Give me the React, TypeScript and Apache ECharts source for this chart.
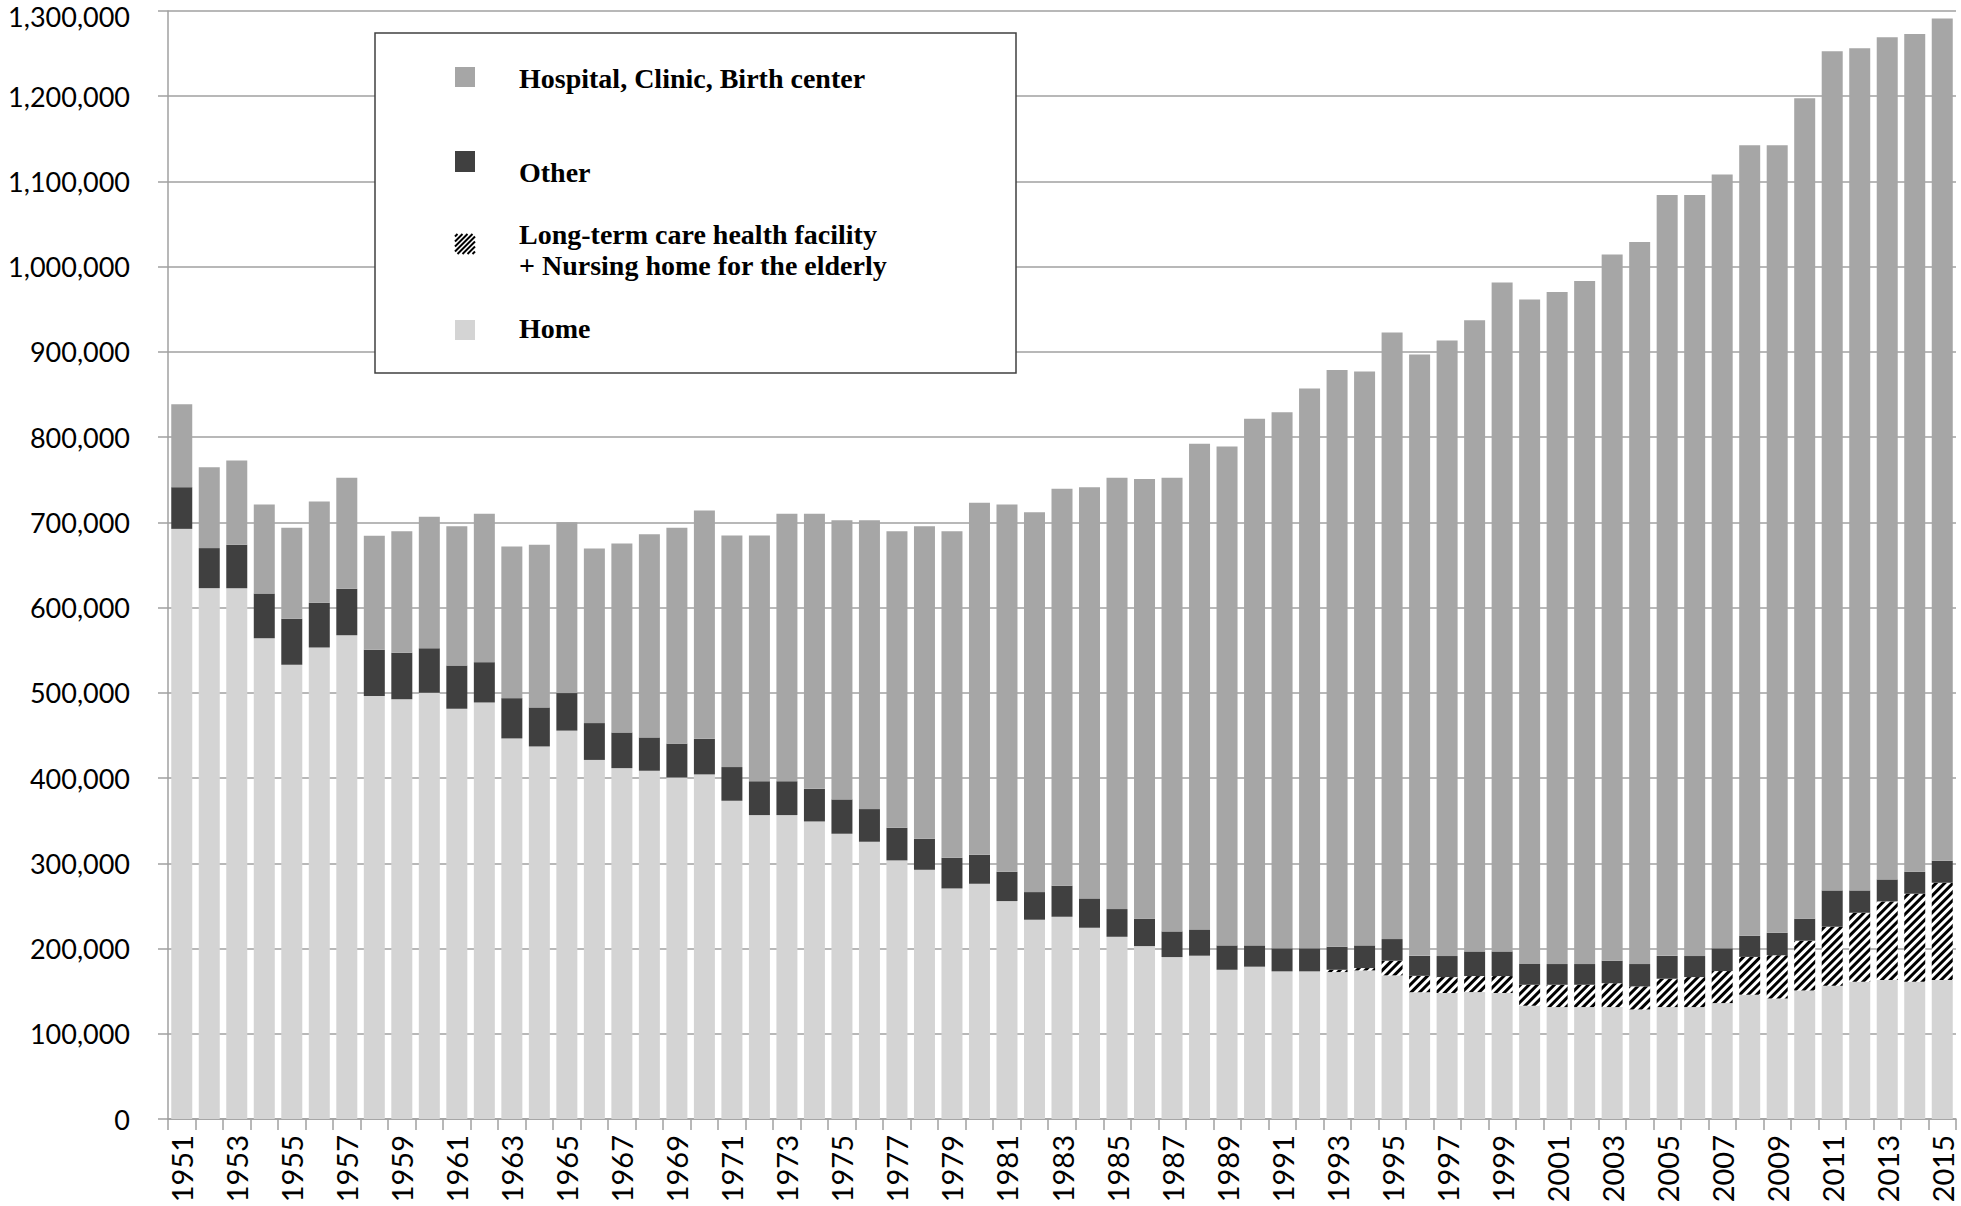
import React, { useEffect, useRef } from "react";
import * as echarts from "echarts";

const years: string[] = [
  "1951","1952","1953","1954","1955","1956","1957","1958","1959","1960",
  "1961","1962","1963","1964","1965","1966","1967","1968","1969","1970",
  "1971","1972","1973","1974","1975","1976","1977","1978","1979","1980",
  "1981","1982","1983","1984","1985","1986","1987","1988","1989","1990",
  "1991","1992","1993","1994","1995","1996","1997","1998","1999","2000",
  "2001","2002","2003","2004","2005","2006","2007","2008","2009","2010",
  "2011","2012","2013","2014","2015",
];

const home: number[] = [
  692400, 622800, 622800, 564200, 532900, 553200, 567700, 496200, 492600, 500100,
  481300, 488700, 446500, 437100, 455700, 421300, 411700, 408600, 400700, 404300,
  373400, 356600, 356600, 349100, 334700, 325300, 303400, 292400, 270500, 276000,
  255700, 233800, 237300, 224400, 213800, 202900, 190000, 191600, 175100, 178700,
  173200, 173200, 172400, 174300, 168500, 148700, 147800, 148900, 147800, 132900,
  131300, 131300, 131300, 128500, 131300, 131300, 136000, 145800, 141500, 150900,
  156400, 161100, 163000, 161100, 163000,
];

const longTermCare: number[] = [
  0, 0, 0, 0, 0, 0, 0, 0, 0, 0,
  0, 0, 0, 0, 0, 0, 0, 0, 0, 0,
  0, 0, 0, 0, 0, 0, 0, 0, 0, 0,
  0, 0, 0, 0, 0, 0, 0, 0, 0, 0,
  0, 0, 2700, 2800, 17200, 19300, 18700, 18800, 19900, 24600,
  26200, 26200, 28000, 27100, 33300, 35200, 37600, 44400, 50600, 58300,
  69200, 80900, 92300, 103200, 114200,
];

const other: number[] = [
  48900, 47000, 50900, 52400, 54000, 52400, 54400, 54300, 54400, 52300,
  50800, 47300, 47300, 45800, 44000, 43200, 41800, 39100, 39700, 41800,
  39500, 39700, 39700, 38300, 40300, 38300, 38300, 36400, 36000, 34000,
  34400, 32400, 36400, 34400, 32500, 32100, 30100, 30800, 28600, 25000,
  27000, 27000, 27000, 26600, 25400, 23400, 24700, 28900, 28900, 24500,
  24300, 24300, 26400, 26200, 26800, 24700, 26600, 24800, 26400, 25800,
  42600, 26200, 25800, 25800, 25800,
];

const hospital: number[] = [
  97400, 95000, 98900, 104400, 106700, 118900, 130200, 133700, 142700, 154100,
  163500, 174000, 177900, 190800, 200600, 204900, 221700, 238500, 253200, 267800,
  271700, 288300, 313700, 322600, 327600, 339000, 348000, 366800, 383200, 412900,
  430900, 445800, 465700, 482500, 506000, 516000, 532400, 570000, 585300, 617800,
  629100, 656800, 676800, 673300, 711600, 705500, 722100, 740600, 784800, 779400,
  788600, 801500, 828500, 847300, 892800, 893000, 907900, 927500, 924000, 962600,
  984500, 988100, 988100, 983000, 988100,
];

const yTicks = { min: 0, max: 1300000, interval: 100000 };

const legendLabels = {
  hospital: "Hospital, Clinic, Birth center",
  other: "Other",
  ltc1: "Long-term care health facility",
  ltc2: "+ Nursing home for the elderly",
  home: "Home",
};

const COLORS = {
  hospital: "#a6a6a6",
  other: "#404040",
  home: "#d4d4d4",
  grid: "#a0a0a0",
};

function hatchLines(x0: number, y0: number, w: number, h: number, p: number) {
  const out: any[] = [];
  const s = Math.min(w, h);
  for (let c = -s + p / 2; c < s; c += p) {
    const u1 = Math.max(0, c);
    const u2 = Math.min(s, s + c);
    const v1 = u1 - c;
    const v2 = u2 - c;
    out.push({
      type: "line",
      shape: { x1: x0 + u1, y1: y0 + s - v1, x2: x0 + u2, y2: y0 + s - v2 },
      style: { stroke: "#000", lineWidth: 2 },
      silent: true,
    });
  }
  return out;
}

export default function App() {
  const ref = useRef<HTMLDivElement>(null);
  useEffect(() => {
    if (!ref.current) return;
    const chart = echarts.init(ref.current, undefined, { renderer: "svg" });
    const legendFont = 'bold 28px "Liberation Serif", "Times New Roman", serif';
    const tx = 519;
    const ix = 455;
    const graphic: any[] = [
      {
        type: "rect",
        shape: { x: 375, y: 33, width: 641, height: 340 },
        style: { fill: "#fff", stroke: "#404040", lineWidth: 1.5 },
        z: 100,
      },
      { type: "rect", shape: { x: ix, y: 67, width: 20, height: 20 }, style: { fill: COLORS.hospital }, z: 101 },
      { type: "text", x: tx, y: 78, style: { text: legendLabels.hospital, font: legendFont, fill: "#000", verticalAlign: "middle" }, z: 101 },
      { type: "rect", shape: { x: ix, y: 151, width: 20, height: 21 }, style: { fill: COLORS.other }, z: 101 },
      { type: "text", x: tx, y: 172, style: { text: legendLabels.other, font: legendFont, fill: "#000", verticalAlign: "middle" }, z: 101 },
      ...hatchLines(ix, 234, 20, 20, 5).map((l) => ({ ...l, z: 101 })),
      { type: "text", x: tx, y: 234, style: { text: legendLabels.ltc1, font: legendFont, fill: "#000", verticalAlign: "middle" }, z: 101 },
      { type: "text", x: tx, y: 265, style: { text: legendLabels.ltc2, font: legendFont, fill: "#000", verticalAlign: "middle" }, z: 101 },
      { type: "rect", shape: { x: ix, y: 320, width: 20, height: 20 }, style: { fill: COLORS.home }, z: 101 },
      { type: "text", x: tx, y: 328, style: { text: legendLabels.home, font: legendFont, fill: "#000", verticalAlign: "middle" }, z: 101 },
    ];

    const barBase = {
      type: "bar" as const,
      stack: "total",
      barWidth: 21,
      emphasis: { disabled: true },
    };

    chart.setOption({
      animation: false,
      backgroundColor: "#ffffff",
      grid: {
        left: 168,
        right: 5,
        top: 11,
        bottom: 87,
        containLabel: false,
        outerBoundsMode: "none",
      },
      xAxis: {
        type: "category",
        data: years,
        boundaryGap: true,
        axisLine: { show: true, lineStyle: { color: COLORS.grid, width: 1.5 } },
        axisTick: { show: true, length: 11, interval: 0, lineStyle: { color: COLORS.grid, width: 1.5 } },
        axisLabel: {
          interval: 1,
          rotate: 90,
          margin: 16,
          color: "#000",
          fontFamily: "Lato",
          fontSize: 29,
        },
        splitLine: { show: false },
      },
      yAxis: {
        type: "value",
        min: yTicks.min,
        max: yTicks.max,
        interval: yTicks.interval,
        axisLine: { show: true, lineStyle: { color: COLORS.grid, width: 1.5 } },
        axisTick: { show: true, length: 10, lineStyle: { color: COLORS.grid, width: 1.5 } },
        axisLabel: {
          margin: 38,
          color: "#000",
          fontFamily: "Lato",
          fontSize: 27,
          lineHeight: 20,
          formatter: (v: number) =>
            v === yTicks.max
              ? "{top|" + v.toLocaleString("en-US") + "}"
              : v.toLocaleString("en-US"),
          rich: {
            top: {
              fontFamily: "Lato",
              fontSize: 27,
              lineHeight: 20,
              color: "#000",
              padding: [10, 0, 0, 0],
            },
          },
        },
        splitLine: { show: true, lineStyle: { color: COLORS.grid, width: 1.5 } },
      },
      series: [
        { ...barBase, name: "Home", data: home, itemStyle: { color: COLORS.home } },
        {
          ...barBase,
          name: "Long-term care health facility + Nursing home for the elderly",
          data: longTermCare,
          itemStyle: {
            color: "#ffffff",
            decal: {
              symbol: "rect",
              symbolSize: 1,
              color: "#000000",
              backgroundColor: "#ffffff",
              dashArrayX: [1, 0],
              dashArrayY: [2.5, 2.2],
              rotation: -Math.PI / 4,
            },
          },
        },
        { ...barBase, name: "Other", data: other, itemStyle: { color: COLORS.other } },
        { ...barBase, name: "Hospital, Clinic, Birth center", data: hospital, itemStyle: { color: COLORS.hospital } },
      ],
      graphic,
    });
    return () => chart.dispose();
  }, []);
  return (
    <div
      ref={ref}
      style={{ position: "absolute", left: 0, top: 0, width: 1961, height: 1206 }}
    />
  );
}
